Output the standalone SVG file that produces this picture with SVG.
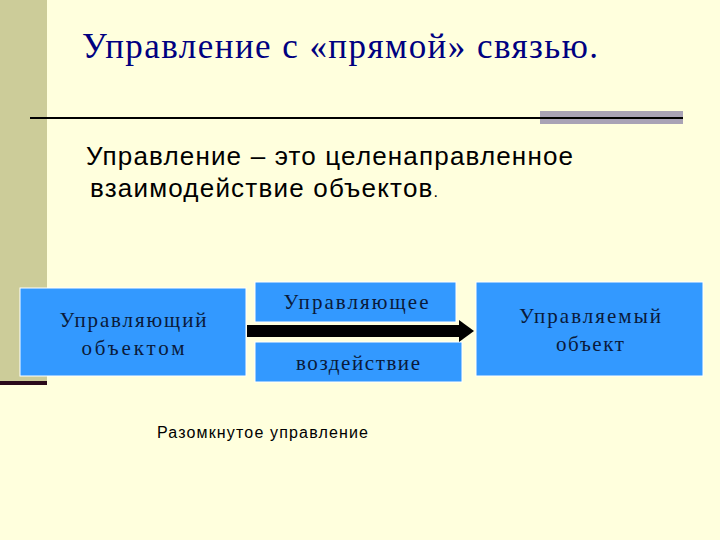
<svg xmlns="http://www.w3.org/2000/svg" width="720" height="540" viewBox="0 0 720 540">
<style>
.box{fill:#3399FF;stroke:#FFFFFF;stroke-width:1}
.bt{font-family:"Liberation Serif",serif;font-size:21px;fill:#0A1A3A;text-anchor:middle}
.st{font-family:"Liberation Sans",sans-serif;fill:#000}
</style>
<rect width="720" height="540" fill="#FFFFDD"/>
<rect x="0" y="0" width="47" height="383" fill="#CCCC99"/>
<rect x="0" y="381" width="47" height="4" fill="#2A0A1A"/>
<rect x="540" y="111" width="143" height="13" fill="#A9A3B5"/>
<line x1="30" y1="118" x2="683" y2="118" stroke="#000" stroke-width="2"/>
<text x="82" y="58" font-family="Liberation Serif,serif" font-size="35" fill="#000080" textLength="516">Управление с «прямой» связью.</text>
<text class="st" x="86" y="165" font-size="26" textLength="487">Управление – это целенаправленное</text>
<text class="st" x="90" y="197" font-size="26" textLength="348">взаимодействие объектов<tspan font-size="16">.</tspan></text>
<g id="n1"><rect class="box" x="20" y="288" width="226" height="88"/><text class="bt" x="133" y="327" textLength="147">Управляющий</text><text class="bt" x="133" y="355" textLength="103">объектом</text></g>
<g id="n2"><rect class="box" x="255" y="282" width="201" height="40"/><text class="bt" x="356" y="309" textLength="145">Управляющее</text></g>
<g id="n3"><rect class="box" x="255" y="342" width="207" height="40"/><text class="bt" x="358" y="370" textLength="124">воздействие</text></g>
<g id="n4"><rect class="box" x="476" y="282" width="227" height="94"/><text class="bt" x="590" y="323" textLength="142">Управляемый</text><text class="bt" x="590" y="351" textLength="68">объект</text></g>
<g id="connectors"><rect x="247" y="325" width="214" height="12" fill="#000"/><polygon points="459,320 474,331 459,342" fill="#000"/></g>
<text class="st" x="157" y="438" font-size="16" textLength="211">Разомкнутое управление</text>
</svg>
